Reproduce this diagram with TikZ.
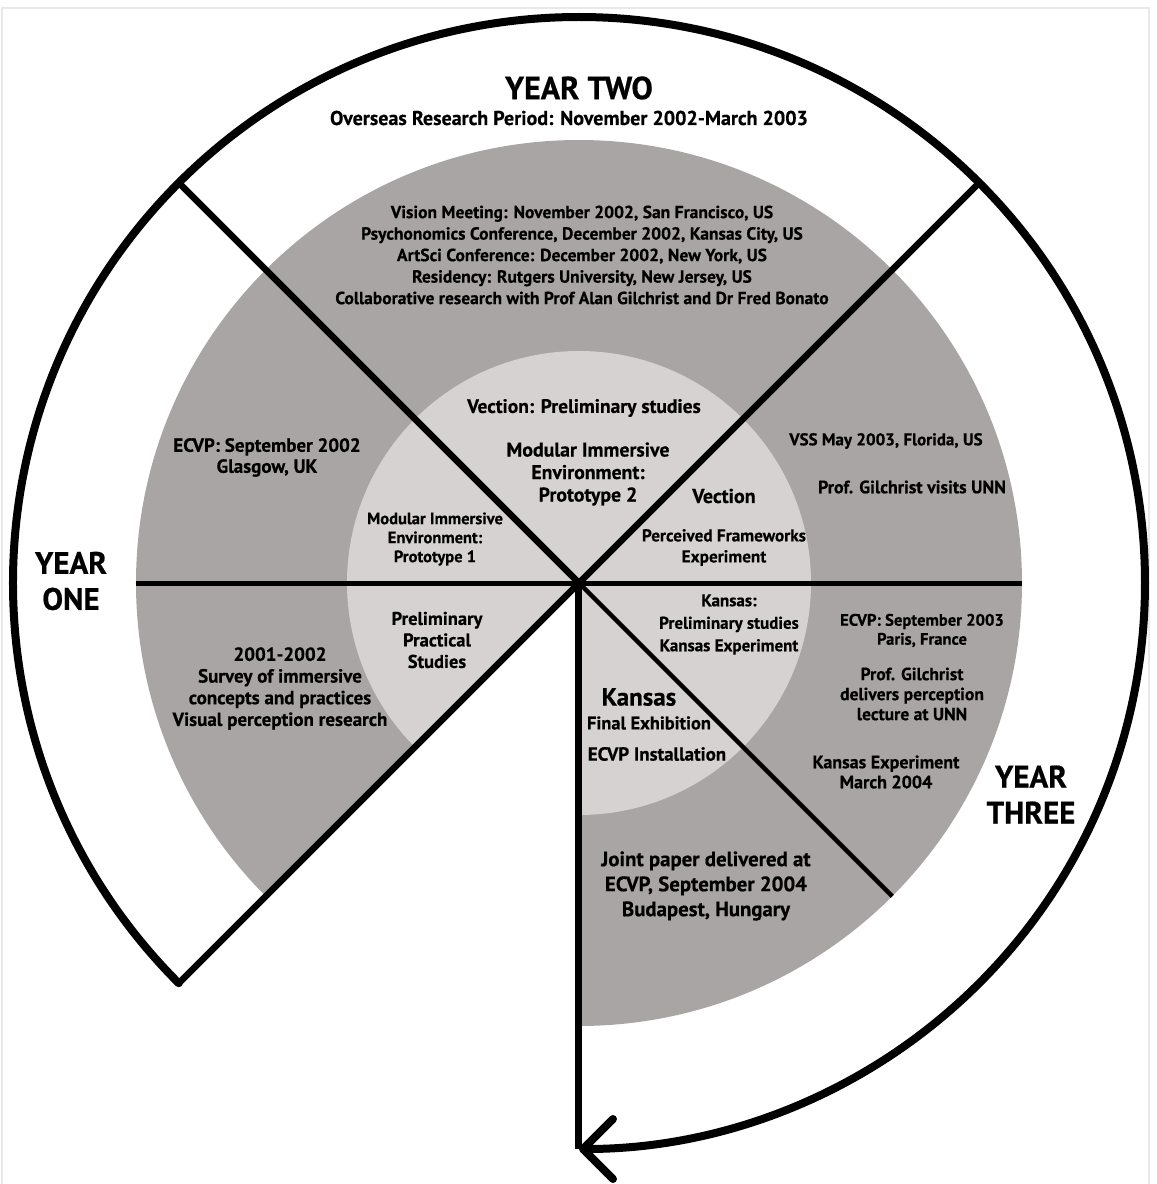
\documentclass[tikz,border=0pt]{standalone}
\usepackage{fontspec}
\setmainfont{PT Sans}[BoldFeatures={FakeBold=0.5}]
\usetikzlibrary{arrows.meta}

\definecolor{ringgray}{RGB}{169,165,165}
\definecolor{coregray}{RGB}{214,210,210}
\definecolor{framegray}{RGB}{232,232,232}

\tikzset{
  yearlbl/.style={font=\bfseries\fontsize{31}{36}\selectfont,align=center,inner sep=0pt},
  eventlbl/.style={font=\bfseries\fontsize{18}{21.5}\selectfont,align=center,inner sep=0pt},
  rim/.style={line width=8pt,line cap=round},
  spoke/.style={line width=6.5pt},
}

\begin{document}
\begin{tikzpicture}[x=1pt,y=1pt]
  \useasboundingbox (-579,-601) rectangle (578,583);
  \draw[framegray,line width=2pt] (-577,-601) -- (-577,575) -- (570,575) -- (570,-601);

  \coordinate (O) at (0,0);
  \coordinate (ne) at (45:566);
  \coordinate (nw) at (135:566);
  \coordinate (sw) at (225:566);
  \coordinate (s) at (270:566);
  \coordinate (se) at (-45:443);
  \coordinate (w) at (180:443);
  \coordinate (e) at (0:443);

  % the two shaded discs, open in the lower left
  \fill[ringgray] (O) -- (-90:443) arc[start angle=-90,end angle=225,radius=443] -- cycle;
  \fill[coregray] (O) -- (-90:232) arc[start angle=-90,end angle=225,radius=232] -- cycle;

  \draw[rim,-{Straight Barb[length=30pt,width=60pt,round]}] (sw) arc[start angle=225,end angle=-90,radius=566];

  \draw[spoke] (nw) -- (O);
  \draw[line width=4.5pt] (O) -- (se);
  \draw[spoke] (ne) -- (sw);
  \draw[line width=5pt] (w) -- (e);
  \draw[line width=7pt] (O) -- (s);

  \node (yeartwo) at (0,495) [yearlbl,font=\bfseries\fontsize{32}{36}\selectfont]{YEAR TWO};
  \node (overseas) at (-10,465) [eventlbl,font=\bfseries\fontsize{20}{22}\selectfont]{Overseas Research Period: November 2002-March 2003};
  \node (visits) at (3,328) [eventlbl,font=\bfseries\fontsize{17.5}{21.5}\selectfont]{Vision Meeting: November 2002, San Francisco, US\\Psychonomics Conference, December 2002, Kansas City, US\\ArtSci Conference: December 2002, New York, US\\Residency: Rutgers University, New Jersey, US\\Collaborative research with Prof Alan Gilchrist and Dr Fred Bonato};

  \node (ecvpone) at (-312,125.5) [eventlbl,font=\bfseries\fontsize{19}{21}\selectfont]{ECVP: September 2002\\Glasgow, UK};
  \node (protoone) at (-144,44) [eventlbl,font=\bfseries\fontsize{16.5}{19}\selectfont]{Modular Immersive\\Environment:\\Prototype 1};
  \node (practical) at (-142,-57) [eventlbl,font=\bfseries\fontsize{18.5}{21.5}\selectfont]{Preliminary\\Practical\\Studies};
  \node (survey) at (-299,-105.5) [eventlbl,font=\bfseries\fontsize{19}{21.7}\selectfont]{2001-2002\\Survey of immersive\\concepts and practices\\Visual perception research};

  \node (vectionpre) at (5,175) [eventlbl,font=\bfseries\fontsize{19.5}{22}\selectfont]{Vection: Preliminary studies};
  \node (prototwo) at (9,109) [eventlbl,font=\bfseries\fontsize{19.8}{22.5}\selectfont]{Modular Immersive\\Environment:\\Prototype 2};
  \node (vection) at (145,87) [eventlbl,font=\bfseries\fontsize{20}{22}\selectfont]{Vection};
  \node (frameworks) at (145,35.5) [eventlbl,font=\bfseries\fontsize{17.2}{21}\selectfont]{Perceived Frameworks\\Experiment};
  \node (vss) at (307,142) [eventlbl,font=\bfseries\fontsize{17}{20}\selectfont]{VSS May 2003, Florida, US};
  \node (visitunn) at (333,96) [eventlbl,font=\bfseries\fontsize{17.9}{20}\selectfont]{Prof. Gilchrist visits UNN};

  \node (kansaspre) at (150,-41.5) [eventlbl,font=\bfseries\fontsize{17}{22.5}\selectfont]{Kansas:\\Preliminary studies\\Kansas Experiment};
  \node (ecvptwo) at (343,-47.5) [eventlbl,font=\bfseries\fontsize{16.6}{19}\selectfont]{ECVP: September 2003\\Paris, France};
  \node (lecture) at (333,-111) [eventlbl,font=\bfseries\fontsize{17.6}{20}\selectfont]{Prof. Gilchrist\\delivers perception\\lecture at UNN};
  \node (kansasexp) at (307,-189) [eventlbl,font=\bfseries\fontsize{18}{20}\selectfont]{Kansas Experiment\\March 2004};
  \node (kansas) at (60,-114) [eventlbl,font=\bfseries\fontsize{25}{26}\selectfont]{Kansas};
  \node (finalexh) at (70,-140) [eventlbl,font=\bfseries\fontsize{18.4}{20}\selectfont]{Final Exhibition};
  \node (install) at (78,-171) [eventlbl,font=\bfseries\fontsize{18.9}{20}\selectfont]{ECVP Installation};
  \node (joint) at (127,-303) [eventlbl,font=\bfseries\fontsize{20.8}{25}\selectfont]{Joint paper delivered at\\ECVP, September 2004\\Budapest, Hungary};

  \node (yearone) at (-508,2) [yearlbl]{YEAR\\ONE};
  \node (yearthree) at (452,-211.5) [yearlbl]{YEAR\\THREE};

\end{tikzpicture}
\end{document}
